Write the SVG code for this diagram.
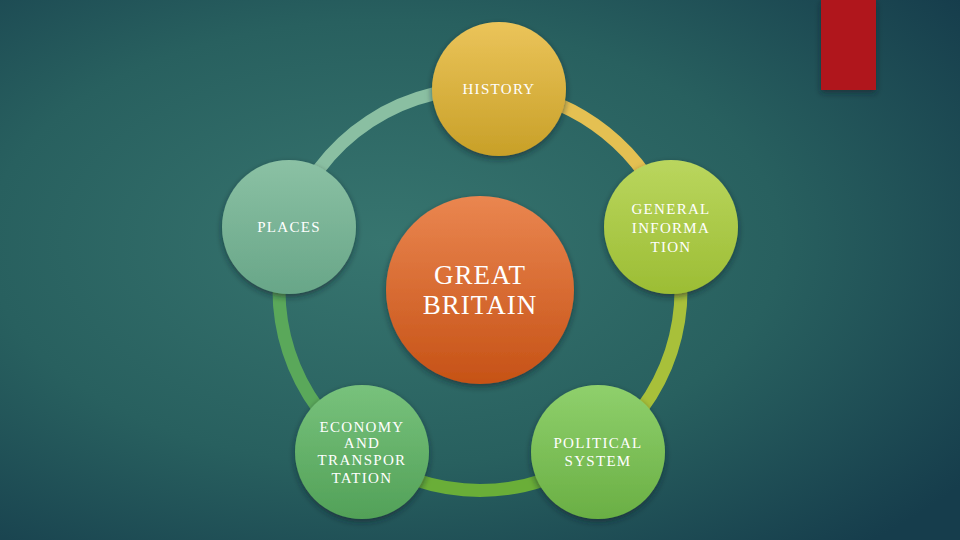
<svg xmlns="http://www.w3.org/2000/svg" width="960" height="540" viewBox="0 0 960 540">
<defs>
<radialGradient id="bg" cx="0.4" cy="0.45" r="0.75">
<stop offset="0" stop-color="#37756f"/>
<stop offset="0.55" stop-color="#28605f"/>
<stop offset="1" stop-color="#163d4c"/>
</radialGradient>
<linearGradient id="gH" x1="0" y1="0" x2="0" y2="1"><stop offset="0" stop-color="#ebc45a"/><stop offset="1" stop-color="#c8a028"/></linearGradient>
<linearGradient id="gG" x1="0" y1="0" x2="0" y2="1"><stop offset="0" stop-color="#bad65e"/><stop offset="1" stop-color="#9cbd34"/></linearGradient>
<linearGradient id="gP" x1="0" y1="0" x2="0" y2="1"><stop offset="0" stop-color="#8fd06c"/><stop offset="1" stop-color="#6aaf44"/></linearGradient>
<linearGradient id="gE" x1="0" y1="0" x2="0" y2="1"><stop offset="0" stop-color="#78c27c"/><stop offset="1" stop-color="#52a158"/></linearGradient>
<linearGradient id="gL" x1="0" y1="0" x2="0" y2="1"><stop offset="0" stop-color="#8bc1a4"/><stop offset="1" stop-color="#68a688"/></linearGradient>
<linearGradient id="gC" x1="0" y1="0" x2="0" y2="1"><stop offset="0" stop-color="#ea8650"/><stop offset="1" stop-color="#c65216"/></linearGradient>
<filter id="sh" x="-20%" y="-20%" width="140%" height="150%">
<feDropShadow dx="0" dy="3" stdDeviation="3" flood-color="#0a2028" flood-opacity="0.55"/>
</filter>
<style>
.arc{fill:none;stroke-width:13}
.t{font-family:"Liberation Serif","DejaVu Serif",serif;fill:#ffffff;text-anchor:middle;font-size:15px;letter-spacing:1.3px}
.tc{font-family:"Liberation Serif","DejaVu Serif",serif;fill:#ffffff;text-anchor:middle;font-size:27px;letter-spacing:1px}
</style>
</defs>
<rect width="960" height="540" fill="url(#bg)"/>
<rect x="821" y="0" width="55" height="90" fill="#b0171a" filter="url(#sh)"/>
<g id="connectors">
<path class="arc" stroke="#e4c052" d="M498.9,89.4 A201,201 0 0 1 671.1,227"/>
<path class="arc" stroke="#a8c03a" d="M671.1,227 A201,201 0 0 1 598.1,452.1"/>
<path class="arc" stroke="#6aae38" d="M598.1,452.1 A201,201 0 0 1 361.9,452.1"/>
<path class="arc" stroke="#5aa85a" d="M361.9,452.1 A201,201 0 0 1 288.9,227"/>
<path class="arc" stroke="#8abfa2" d="M288.9,227 A201,201 0 0 1 498.9,89.4"/>
</g>
<g id="center">
<circle cx="480" cy="290" r="94" fill="url(#gC)" filter="url(#sh)"/>
<text class="tc" x="480" y="284">GREAT</text>
<text class="tc" x="480" y="314">BRITAIN</text>
</g>
<g id="history">
<circle cx="499" cy="89" r="67" fill="url(#gH)" filter="url(#sh)"/>
<text class="t" x="499" y="94">HISTORY</text>
</g>
<g id="general">
<circle cx="671" cy="227" r="67" fill="url(#gG)" filter="url(#sh)"/>
<text class="t" x="671" y="214">GENERAL</text>
<text class="t" x="671" y="233">INFORMA</text>
<text class="t" x="671" y="252">TION</text>
</g>
<g id="political">
<circle cx="598" cy="452" r="67" fill="url(#gP)" filter="url(#sh)"/>
<text class="t" x="598" y="448">POLITICAL</text>
<text class="t" x="598" y="466">SYSTEM</text>
</g>
<g id="economy">
<circle cx="362" cy="452" r="67" fill="url(#gE)" filter="url(#sh)"/>
<text class="t" x="362" y="432">ECONOMY</text>
<text class="t" x="362" y="448">AND</text>
<text class="t" x="362" y="465">TRANSPOR</text>
<text class="t" x="362" y="483">TATION</text>
</g>
<g id="places">
<circle cx="289" cy="227" r="67" fill="url(#gL)" filter="url(#sh)"/>
<text class="t" x="289" y="232">PLACES</text>
</g>
</svg>
